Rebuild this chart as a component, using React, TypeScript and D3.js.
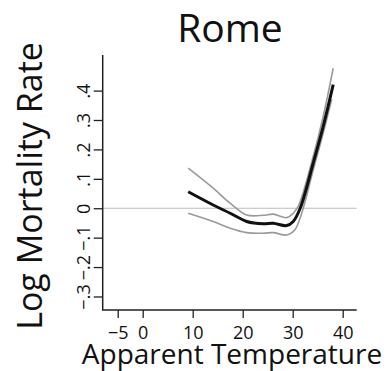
import React, { useRef, useEffect } from "react";
import * as d3 from "d3";

const temps = [9.1, 14.1, 17.5, 20.8, 24.1, 26.1, 28.8, 30.1, 31.5, 34.1, 36.1, 38.1];
const estimate = [0.056, 0.011, -0.017, -0.045, -0.053, -0.051, -0.059, -0.045, 0.0, 0.153, 0.278, 0.42];
const upperTemps = [9.1, 14.1, 17.5, 20.8, 24.1, 26.1, 28.8, 30.1, 31.1, 34.1, 36.1, 38.1];
const upper = [0.136, 0.068, 0.017, -0.023, -0.024, -0.02, -0.032, -0.017, 0.006, 0.176, 0.312, 0.476];
const lowerTemps = [9.1, 14.1, 17.5, 20.8, 24.1, 26.1, 28.8, 30.4, 31.8, 34.1, 36.1, 37.8];
const lower = [-0.017, -0.045, -0.068, -0.083, -0.085, -0.083, -0.091, -0.074, -0.017, 0.13, 0.255, 0.37];
const xTicks = [-5, 0, 10, 20, 30, 40];
const yTicks = [-0.3, -0.2, -0.1, 0, 0.1, 0.2, 0.3, 0.4];
const yTickLabels = ["\u2212.3", "\u2212.2", "\u2212.1", "0", ".1", ".2", ".3", ".4"];

const FONT = "'Open Sans', 'Noto Sans', sans-serif";

export default function App() {
  const svgRef = useRef<SVGSVGElement>(null);

  useEffect(() => {
    const svg = d3.select(svgRef.current);
    svg.selectAll("*").remove();

    const left = 102.7, right = 356.7, top = 55, bottom = 310;
    const x = d3.scaleLinear().domain([-8, 42.8]).range([left, right]);
    const y = d3.scaleLinear().domain([-0.346, 0.521]).range([bottom, top]);

    // zero reference line
    svg.append("line")
      .attr("x1", left).attr("x2", right)
      .attr("y1", y(0)).attr("y2", y(0))
      .attr("stroke", "#bdbdbd").attr("stroke-width", 1.2);

    // axes
    const gx = svg.append("g").attr("transform", `translate(0,${bottom})`)
      .call(d3.axisBottom(x).tickValues(xTicks).tickSize(8).tickPadding(8).tickFormat((d) => {
        const v = +d;
        return v < 0 ? `\u2212${-v}` : `${v}`;
      }));
    gx.select(".domain").remove();
    gx.selectAll("line").attr("stroke", "#222").attr("stroke-width", 1.3);
    gx.selectAll("text").attr("font-family", FONT).attr("font-size", 18).attr("fill", "#111");

    const gy = svg.append("g").attr("transform", `translate(${left},0)`)
      .call(d3.axisLeft(y).tickValues(yTicks).tickSize(9).tickFormat((d, i) => yTickLabels[i]));
    gy.select(".domain").remove();
    gy.selectAll("line").attr("stroke", "#222").attr("stroke-width", 1.3);
    gy.selectAll("text")
      .attr("font-family", FONT).attr("font-size", 18).attr("fill", "#111")
      .attr("x", null).attr("dy", null)
      .attr("text-anchor", "middle")
      .attr("transform", "translate(-13,0) rotate(-90)");

    // L-shaped frame
    svg.append("path")
      .attr("d", `M${left},${top}V${bottom}H${right}`)
      .attr("fill", "none").attr("stroke", "#222").attr("stroke-width", 1.5);

    const line = d3.line<[number, number]>()
      .x((d) => x(d[0])).y((d) => y(d[1]))
      .curve(d3.curveCatmullRom.alpha(0.5));

    svg.append("path")
      .attr("d", line(upperTemps.map((t, i) => [t, upper[i]])))
      .attr("fill", "none").attr("stroke", "#9a9a9a").attr("stroke-width", 1.6);
    svg.append("path")
      .attr("d", line(lowerTemps.map((t, i) => [t, lower[i]])))
      .attr("fill", "none").attr("stroke", "#9a9a9a").attr("stroke-width", 1.6);
    svg.append("path")
      .attr("d", line(temps.map((t, i) => [t, estimate[i]])))
      .attr("fill", "none").attr("stroke", "#111").attr("stroke-width", 3);

    // titles
    svg.append("text")
      .attr("x", 230).attr("y", 42)
      .attr("text-anchor", "middle")
      .attr("font-family", FONT).attr("font-size", 39).attr("fill", "#111")
      .text("Rome");
    svg.append("text")
      .attr("x", 232).attr("y", 364)
      .attr("text-anchor", "middle")
      .attr("font-family", FONT).attr("font-size", 28).attr("fill", "#111")
      .text("Apparent Temperature");
    svg.append("text")
      .attr("transform", "translate(42,186) rotate(-90)")
      .attr("text-anchor", "middle")
      .attr("font-family", FONT).attr("font-size", 34).attr("fill", "#111")
      .text("Log Mortality Rate");
  }, []);

  return (
    <svg
      ref={svgRef}
      width={389}
      height={371}
      style={{ position: "absolute", left: 0, top: 0, background: "#fff" }}
    />
  );
}
